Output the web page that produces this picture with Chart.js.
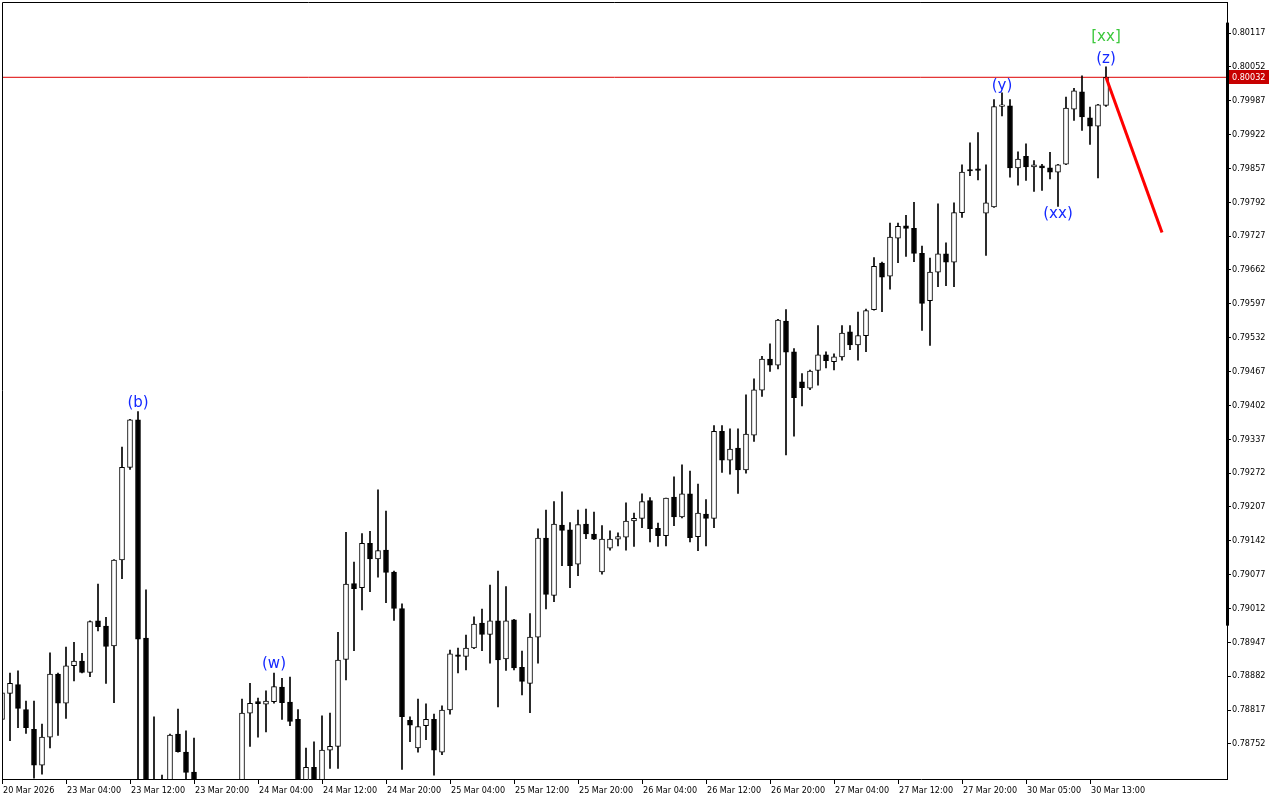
<!DOCTYPE html>
<html>
<head>
<meta charset="utf-8">
<script src="https://cdn.jsdelivr.net/npm/chart.js@4"></script>
<style>
  html, body { margin: 0; padding: 0; background: #fff; }
  canvas { display: block; }
</style>
</head>
<body>
<canvas id="chart" width="1280" height="800"></canvas>
<script>
// H1 candles, 20 Mar 20:00 .. 30 Mar 15:00 (bar index 0..138)
const opens = [
  0.78799, 0.78849, 0.78866, 0.78818, 0.78780, 0.78711, 0.78765, 0.78886, 0.78830, 0.78902,
  0.78911, 0.78889, 0.78988, 0.78978, 0.78940, 0.79105, 0.79283, 0.79374, 0.78955, 0.78670,
  0.78650, 0.78665, 0.78771, 0.78736, 0.78698, 0.78660, 0.78625, 0.78650, 0.78630, 0.78655,
  0.78675, 0.78811, 0.78833, 0.78828, 0.78833, 0.78861, 0.78832, 0.78799, 0.78660, 0.78707,
  0.78660, 0.78740, 0.78747, 0.78914, 0.79060, 0.79052, 0.79137, 0.79107, 0.79124, 0.79082,
  0.79012, 0.78797, 0.78744, 0.78787, 0.78799, 0.78736, 0.78817, 0.78923, 0.78920, 0.78936,
  0.78984, 0.78962, 0.78988, 0.78915, 0.78990, 0.78899, 0.78868, 0.78957, 0.79147, 0.79037,
  0.79172, 0.79163, 0.79097, 0.79174, 0.79155, 0.79082, 0.79128, 0.79145, 0.79149, 0.79180,
  0.79185, 0.79219, 0.79166, 0.79152, 0.79226, 0.79188, 0.79232, 0.79150, 0.79193, 0.79185,
  0.79352, 0.79297, 0.79320, 0.79278, 0.79345, 0.79431, 0.79491, 0.79479, 0.79564, 0.79505,
  0.79447, 0.79435, 0.79469, 0.79499, 0.79486, 0.79495, 0.79543, 0.79518, 0.79536, 0.79586,
  0.79675, 0.79650, 0.79723, 0.79747, 0.79742, 0.79694, 0.79603, 0.79658, 0.79693, 0.79677,
  0.79772, 0.79855, 0.79856, 0.79771, 0.79783, 0.79976, 0.79977, 0.79858, 0.79880, 0.79860,
  0.79862, 0.79858, 0.79850, 0.79865, 0.79971, 0.80004, 0.79954, 0.79938, 0.79978
];
const highs = [
  0.78861, 0.78888, 0.78892, 0.78834, 0.78834, 0.78790, 0.78927, 0.78888, 0.78938, 0.78947,
  0.78926, 0.78988, 0.79059, 0.78995, 0.79106, 0.79322, 0.79375, 0.79390, 0.79048, 0.78804,
  0.78692, 0.78771, 0.78819, 0.78777, 0.78763, 0.78675, 0.78660, 0.78670, 0.78665, 0.78680,
  0.78838, 0.78868, 0.78840, 0.78854, 0.78888, 0.78878, 0.78880, 0.78818, 0.78744, 0.78756,
  0.78806, 0.78811, 0.78966, 0.79158, 0.79101, 0.79156, 0.79160, 0.79240, 0.79199, 0.79084,
  0.79021, 0.78804, 0.78838, 0.78829, 0.78809, 0.78825, 0.78932, 0.78936, 0.78961, 0.78996,
  0.79011, 0.79057, 0.79084, 0.79054, 0.78991, 0.78930, 0.79002, 0.79165, 0.79201, 0.79217,
  0.79236, 0.79177, 0.79201, 0.79203, 0.79197, 0.79171, 0.79161, 0.79157, 0.79215, 0.79195,
  0.79232, 0.79225, 0.79176, 0.79224, 0.79265, 0.79288, 0.79276, 0.79251, 0.79221, 0.79363,
  0.79363, 0.79357, 0.79357, 0.79422, 0.79453, 0.79496, 0.79520, 0.79567, 0.79586, 0.79511,
  0.79463, 0.79470, 0.79555, 0.79505, 0.79501, 0.79555, 0.79555, 0.79581, 0.79587, 0.79686,
  0.79677, 0.79752, 0.79752, 0.79767, 0.79792, 0.79708, 0.79685, 0.79789, 0.79714, 0.79791,
  0.79864, 0.79906, 0.79926, 0.79864, 0.79989, 0.80002, 0.79989, 0.79889, 0.79904, 0.79872,
  0.79865, 0.79888, 0.79865, 0.79994, 0.80011, 0.80035, 0.79975, 0.79980, 0.80052
];
const lows = [
  0.78786, 0.78758, 0.78783, 0.78772, 0.78686, 0.78694, 0.78744, 0.78768, 0.78801, 0.78873,
  0.78888, 0.78881, 0.78969, 0.78868, 0.78831, 0.79069, 0.79279, 0.78640, 0.78620, 0.78610,
  0.78620, 0.78650, 0.78736, 0.78680, 0.78630, 0.78610, 0.78600, 0.78615, 0.78605, 0.78640,
  0.78660, 0.78747, 0.78765, 0.78775, 0.78830, 0.78799, 0.78787, 0.78640, 0.78640, 0.78640,
  0.78645, 0.78705, 0.78705, 0.78875, 0.78931, 0.79009, 0.79044, 0.79072, 0.79023, 0.78989,
  0.78703, 0.78756, 0.78736, 0.78760, 0.78692, 0.78731, 0.78809, 0.78888, 0.78894, 0.78935,
  0.78931, 0.78907, 0.78823, 0.78893, 0.78894, 0.78846, 0.78812, 0.78907, 0.79011, 0.79025,
  0.79094, 0.79052, 0.79075, 0.79146, 0.79144, 0.79078, 0.79124, 0.79132, 0.79124, 0.79131,
  0.79167, 0.79140, 0.79131, 0.79132, 0.79171, 0.79186, 0.79140, 0.79123, 0.79132, 0.79167,
  0.79273, 0.79270, 0.79233, 0.79272, 0.79333, 0.79419, 0.79467, 0.79472, 0.79307, 0.79343,
  0.79401, 0.79432, 0.79441, 0.79474, 0.79470, 0.79489, 0.79509, 0.79489, 0.79505, 0.79585,
  0.79582, 0.79625, 0.79676, 0.79688, 0.79678, 0.79546, 0.79517, 0.79630, 0.79632, 0.79630,
  0.79763, 0.79843, 0.79835, 0.79690, 0.79782, 0.79958, 0.79840, 0.79825, 0.79834, 0.79813,
  0.79815, 0.79837, 0.79784, 0.79864, 0.79949, 0.79930, 0.79903, 0.79839, 0.79976
];
const closes = [
  0.78850, 0.78868, 0.78820, 0.78783, 0.78711, 0.78765, 0.78886, 0.78830, 0.78902, 0.78911,
  0.78889, 0.78987, 0.78977, 0.78939, 0.79105, 0.79283, 0.79374, 0.78953, 0.78660, 0.78640,
  0.78660, 0.78769, 0.78737, 0.78697, 0.78660, 0.78625, 0.78650, 0.78630, 0.78655, 0.78670,
  0.78811, 0.78830, 0.78829, 0.78834, 0.78862, 0.78831, 0.78795, 0.78670, 0.78707, 0.78665,
  0.78740, 0.78747, 0.78913, 0.79059, 0.79050, 0.79137, 0.79107, 0.79123, 0.79081, 0.79012,
  0.78804, 0.78788, 0.78785, 0.78799, 0.78740, 0.78817, 0.78925, 0.78920, 0.78936, 0.78982,
  0.78962, 0.78988, 0.78913, 0.78988, 0.78898, 0.78872, 0.78957, 0.79147, 0.79039, 0.79174,
  0.79162, 0.79094, 0.79173, 0.79155, 0.79145, 0.79145, 0.79145, 0.79150, 0.79180, 0.79185,
  0.79217, 0.79165, 0.79152, 0.79224, 0.79188, 0.79232, 0.79148, 0.79195, 0.79185, 0.79352,
  0.79297, 0.79318, 0.79278, 0.79347, 0.79432, 0.79491, 0.79479, 0.79566, 0.79504, 0.79417,
  0.79436, 0.79468, 0.79499, 0.79488, 0.79495, 0.79541, 0.79518, 0.79536, 0.79584, 0.79669,
  0.79648, 0.79725, 0.79746, 0.79742, 0.79694, 0.79598, 0.79658, 0.79693, 0.79677, 0.79772,
  0.79850, 0.79852, 0.79853, 0.79791, 0.79976, 0.79979, 0.79858, 0.79875, 0.79860, 0.79864,
  0.79858, 0.79850, 0.79864, 0.79973, 0.80006, 0.79956, 0.79938, 0.79979, 0.80032
];

// time axis labels (every 8th bar)
const xTickBars = [0, 8, 16, 24, 32, 40, 48, 56, 64, 72, 80, 88, 96, 104, 112, 120, 128, 136];
const xTickLabels = [
  '20 Mar 2026', '23 Mar 04:00', '23 Mar 12:00', '23 Mar 20:00', '24 Mar 04:00',
  '24 Mar 12:00', '24 Mar 20:00', '25 Mar 04:00', '25 Mar 12:00', '25 Mar 20:00',
  '26 Mar 04:00', '26 Mar 12:00', '26 Mar 20:00', '27 Mar 04:00', '27 Mar 12:00',
  '27 Mar 20:00', '30 Mar 05:00', '30 Mar 13:00'
];
const yTicks = [
  0.80117, 0.80052, 0.79987, 0.79922, 0.79857, 0.79792, 0.79727, 0.79662, 0.79597, 0.79532,
  0.79467, 0.79402, 0.79337, 0.79272, 0.79207, 0.79142, 0.79077, 0.79012, 0.78947, 0.78882,
  0.78817, 0.78752
];

// wave marks
const waveLabels = ['(b)', '(w)', '(y)', '(xx)', '(z)', '[xx]'];
const waveBars = [17, 34, 125, 132, 138, 138];

// forecast line: from last close down to target
const forecastBars = [138, 145];
const forecastPrices = [0.80032, 0.79734];

const lastBar = closes.length - 1;
const bodyData = closes.map((c, i) => ({ x: i, y: [opens[i], c] }));
const wickData = closes.map((c, i) => ({ x: i, y: [lows[i], highs[i]] }));
const bodyColors = closes.map((c, i) => c >= opens[i] ? '#ffffff' : '#000000');

const axisFont = '"DejaVu Sans Condensed", "Liberation Sans", sans-serif';

const overlay = {
  id: 'overlay',
  afterDraw(chart) {
    const { ctx, chartArea: a, scales: { x, y } } = chart;
    ctx.save();
    // frame top/left
    ctx.strokeStyle = '#000';
    ctx.lineWidth = 1;
    ctx.beginPath();
    ctx.moveTo(a.left + 0.5, a.bottom);
    ctx.lineTo(a.left + 0.5, a.top + 0.5);
    ctx.lineTo(a.right, a.top + 0.5);
    ctx.stroke();

    // thick bar on the price scale
    const t1 = y.getPixelForValue(0.80137), t2 = y.getPixelForValue(0.78979);
    ctx.fillStyle = '#000';
    ctx.fillRect(a.right - 1, t1, 3, t2 - t1);

    // current price tag
    const py = Math.round(y.getPixelForValue(closes[lastBar]));
    ctx.fillStyle = '#c80000';
    ctx.fillRect(a.right + 2, py - 7, 40, 14);
    ctx.fillStyle = '#fff';
    ctx.font = '9px ' + axisFont;
    ctx.textAlign = 'left';
    ctx.textBaseline = 'middle';
    ctx.fillText(closes[lastBar].toFixed(5), a.right + 5, py + 1);

    // wave labels
    ctx.font = '15px "DejaVu Sans", sans-serif';
    ctx.textAlign = 'center';
    const place = [
      { side: 'high', off: -9, color: '#1428ff' },
      { side: 'high', off: -9, color: '#1428ff' },
      { side: 'high', off: -7, color: '#1428ff' },
      { side: 'low', off: 8, color: '#1428ff' },
      { side: 'high', off: -8, color: '#1428ff' },
      { side: 'high', off: -30, color: '#3cc83c' }
    ];
    waveLabels.forEach((txt, k) => {
      const b = waveBars[k];
      const p = place[k];
      const px = x.getPixelForValue(b);
      const yy = y.getPixelForValue(p.side === 'high' ? highs[b] : lows[b]) + p.off;
      ctx.fillStyle = p.color;
      ctx.fillText(txt, px, yy);
    });
    ctx.restore();
  }
};

const tickFont = { family: axisFont, size: 9 };

new Chart(document.getElementById('chart'), {
  type: 'bar',
  data: {
    datasets: [
      {
        type: 'line',
        data: forecastBars.map((b, i) => ({ x: b, y: forecastPrices[i] })),
        borderColor: '#ff0000',
        borderWidth: 3,
        pointRadius: 0,
        order: 0,
        clip: 0
      },
      {
        type: 'line',
        data: [{ x: 0, y: closes[lastBar] }, { x: 153.125, y: closes[lastBar] }],
        borderColor: '#dd0000',
        borderWidth: 1,
        pointRadius: 0,
        order: 3,
        clip: 0
      },
      {
        data: bodyData,
        backgroundColor: bodyColors,
        borderColor: '#000',
        borderWidth: 1,
        borderSkipped: false,
        barThickness: 5,
        minBarLength: 1,
        grouped: false,
        order: 1,
        clip: 0
      },
      {
        data: wickData,
        backgroundColor: '#000',
        borderWidth: 0,
        barThickness: 1,
        grouped: false,
        order: 2,
        clip: 0
      }
    ]
  },
  options: {
    responsive: false,
    animation: false,
    events: [],
    layout: { padding: { left: 2, top: 2, right: 0, bottom: 0 } },
    plugins: { legend: { display: false }, tooltip: { enabled: false } },
    scales: {
      x: {
        type: 'linear',
        min: 0,
        max: 153.125,
        offset: false,
        grid: { display: true, drawOnChartArea: false, drawTicks: true, tickLength: 5, color: '#000', offset: false },
        border: { display: true, color: '#000', width: 1 },
        afterBuildTicks: s => { s.ticks = xTickBars.map(v => ({ value: v })); },
        afterFit: s => { s.height = 21; s.paddingLeft = 0; s.paddingRight = 0; },
        ticks: {
          autoSkip: false,
          maxRotation: 0,
          align: 'start',
          padding: 1,
          labelOffset: 1,
          color: '#000',
          font: tickFont,
          callback: (v, i) => xTickLabels[i]
        }
      },
      y: {
        position: 'right',
        min: 0.786845,
        max: 0.801766,
        grid: { display: true, drawOnChartArea: false, drawTicks: true, tickLength: 4, color: '#000' },
        border: { display: true, color: '#000', width: 1 },
        afterBuildTicks: s => { s.ticks = yTicks.map(v => ({ value: v })); },
        afterFit: s => { s.width = 53; s.paddingTop = 0; s.paddingBottom = 0; },
        ticks: {
          padding: 1,
          color: '#000',
          font: tickFont,
          callback: v => v.toFixed(5)
        }
      }
    }
  },
  plugins: [overlay]
});
</script>
</body>
</html>
